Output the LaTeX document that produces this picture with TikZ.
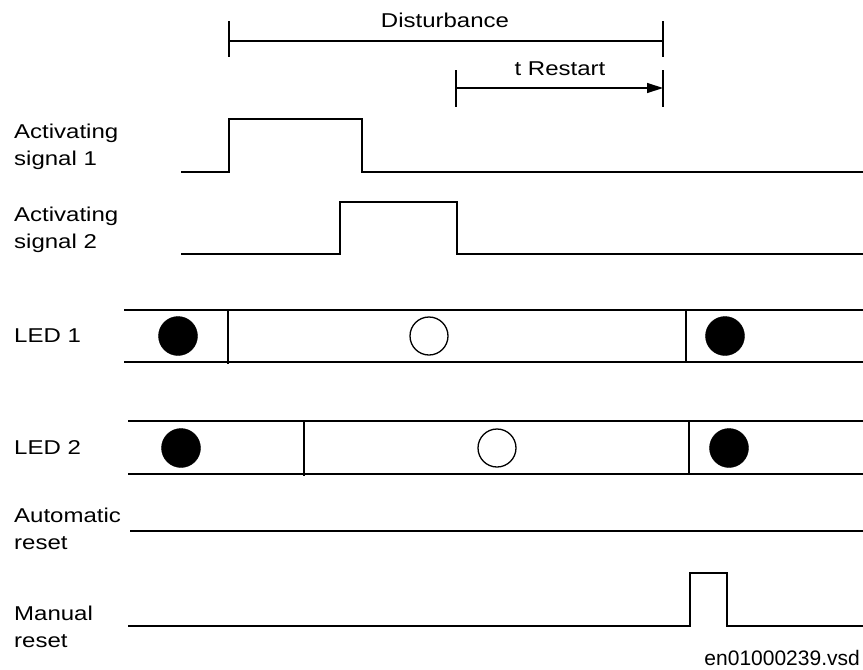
\documentclass[tikz,border=0pt]{standalone}
\usepackage{fontspec}
\setmainfont{Liberation Sans}[FakeStretch=1.2]
\newfontfamily\plainfont{Liberation Sans}
\usetikzlibrary{arrows.meta}

\tikzset{
  sig/.style={line width=1.3pt},
  lbl/.style={anchor=west,align=left,inner sep=0pt,font=\fontsize{20}{27}\selectfont},
}

\begin{document}
\begin{tikzpicture}[x=1pt,y=-1pt]
  \useasboundingbox (0,0) rectangle (863,670);
  % time spans at the top
  \draw[sig] (229,21) -- (229,57);
  \draw[sig] (663,21) -- (663,57);
  \draw[sig] (229,41) -- (663,41);
  \node[font=\fontsize{20}{24}\selectfont, inner sep=0pt] (dist) at (445,20) {Disturbance};
  \draw[sig] (456,70) -- (456,107);
  \draw[sig] (663,70) -- (663,107);
  \draw[sig, -{Triangle[length=16pt,width=10pt]}] (456,88) -- (663,88);
  \node[font=\fontsize{20}{24}\selectfont, inner sep=0pt] (trst) at (560,69) {t Restart};

  % activating signals
  \node[lbl] (act1) at (14,147) {Activating\\signal 1};
  \draw[sig] (181,172) -- (229,172) -- (229,119) -- (362,119) -- (362,172) -- (863,172);
  \node[lbl] (act2) at (14,230) {Activating\\signal 2};
  \draw[sig] (181,254) -- (340,254) -- (340,202) -- (457,202) -- (457,254) -- (863,254);

  % LED 1
  \node[lbl] (led1) at (14,336) {LED 1};
  \draw[sig] (124,310) -- (863,310);
  \draw[sig] (124,362) -- (863,362);
  \draw[sig] (228,310) -- (228,364);
  \draw[sig] (686,310) -- (686,362);
  \filldraw[black] (178,336) circle (19.5pt);
  \draw[sig, fill=white] (429,336) circle (19pt);
  \filldraw[black] (725,336) circle (19.5pt);

  % LED 2
  \node[lbl] (led2) at (14,448) {LED 2};
  \draw[sig] (128,421) -- (863,421);
  \draw[sig] (128,474) -- (863,474);
  \draw[sig] (304,421) -- (304,476);
  \draw[sig] (689,421) -- (689,474);
  \filldraw[black] (181,448) circle (19.5pt);
  \draw[sig, fill=white] (497,448) circle (19pt);
  \filldraw[black] (729,448) circle (19.5pt);

  % resets
  \node[lbl] (autores) at (14,529) {Automatic\\reset};
  \draw[sig] (130,531) -- (863,531);
  \node[lbl] (manres) at (14,627) {Manual\\reset};
  \draw[sig] (128,626) -- (690,626) -- (690,573) -- (727,573) -- (727,626) -- (863,626);

  \node[anchor=base east, inner sep=0pt, font=\plainfont\fontsize{21}{24}\selectfont] (fname) at (860,665) {en01000239.vsd};
\end{tikzpicture}
\end{document}
